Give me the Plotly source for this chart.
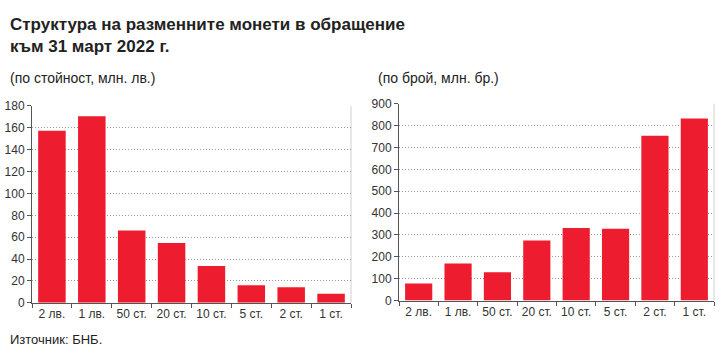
import plotly.graph_objects as go

categories = ["2 лв.", "1 лв.", "50 ст.", "20 ст.", "10 ст.", "5 ст.", "2 ст.", "1 ст."]
value_mln_lv = [157.4, 170.6, 66.1, 54.7, 33.6, 16.1, 14.3, 8.2]
count_mln_pcs = [78, 170, 130, 275, 332, 328, 754, 833]
left_ticks = [0, 20, 40, 60, 80, 100, 120, 140, 160, 180]
right_ticks = [0, 100, 200, 300, 400, 500, 600, 700, 800, 900]

W, H = 724, 354
RED = "#ED1C2E"
FONT = "Liberation Sans, Arial, sans-serif"

def px_x(a, b):
    return [a / W, b / W]

def px_y(top, bottom):
    return [1 - bottom / H, 1 - top / H]

fig = go.Figure()
fig.add_trace(go.Bar(x=categories, y=value_mln_lv, marker_color=RED,
                     marker_line_width=0, xaxis="x", yaxis="y", showlegend=False))
fig.add_trace(go.Bar(x=categories, y=count_mln_pcs, marker_color=RED,
                     marker_line_width=0, xaxis="x2", yaxis="y2", showlegend=False))

axis_x = dict(type="category", showline=True, linecolor="#555", linewidth=1,
              ticks="outside", tickson="boundaries", ticklen=4, tickcolor="#555",
              showgrid=False,
              tickfont=dict(family=FONT, size=12, color="#333"),
              fixedrange=True, zeroline=False)
axis_y = dict(showline=True, linecolor="#555", linewidth=1, ticks="outside",
              ticklen=4, tickcolor="#555", showgrid=True, gridcolor="#999",
              griddash="1px,2px", gridwidth=1, zeroline=False,
              tickfont=dict(family=FONT, size=12, color="#333"), fixedrange=True)

fig.update_layout(
    template="simple_white",
    width=W, height=H, margin=dict(l=0, r=0, t=0, b=0),
    paper_bgcolor="white", plot_bgcolor="white", bargap=0.31,
    xaxis=dict(axis_x, domain=px_x(32, 351), anchor="y"),
    yaxis=dict(axis_y, domain=px_y(103, 308), range=[0, 180], tickvals=left_ticks, anchor="x"),
    xaxis2=dict(axis_x, domain=px_x(399, 714), anchor="y2"),
    yaxis2=dict(axis_y, domain=px_y(100.7, 305.7), range=[0, 900], tickvals=right_ticks, anchor="x2"),
)

for xr, yr in [("x domain", "y domain"), ("x2 domain", "y2 domain")]:
    fig.add_shape(type="line", xref=xr, yref=yr, x0=1, x1=1, y0=0, y1=1,
                  line=dict(color="#999", width=1.5))

fig.add_annotation(text="<b>Структура на разменните монети в обращение<br>към 31 март 2022 г.</b>",
                   xref="paper", yref="paper", x=8 / W, y=1 - 6 / H, xanchor="left", yanchor="top",
                   align="left", showarrow=False,
                   font=dict(family=FONT, size=17, color="#222"))
fig.add_annotation(text="(по стойност, млн. лв.)", xref="paper", yref="paper",
                   x=8 / W, y=1 - 74 / H, xanchor="left", yanchor="middle", showarrow=False,
                   font=dict(family=FONT, size=14, color="#222"))
fig.add_annotation(text="(по брой, млн. бр.)", xref="paper", yref="paper",
                   x=376 / W, y=1 - 74 / H, xanchor="left", yanchor="middle", showarrow=False,
                   font=dict(family=FONT, size=14, color="#222"))
fig.add_annotation(text="Източник: БНБ.", xref="paper", yref="paper",
                   x=8 / W, y=1 - 346 / H, xanchor="left", yanchor="middle", showarrow=False,
                   font=dict(family=FONT, size=13, color="#222"))

fig.write_html("out.html")
